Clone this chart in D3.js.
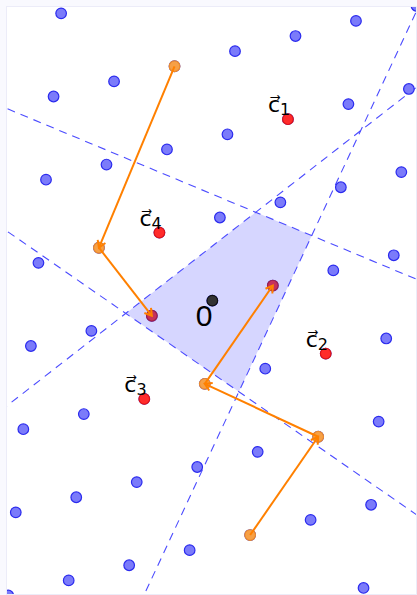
<!DOCTYPE html>
<html>
<head>
<meta charset="utf-8">
<script src="https://cdn.jsdelivr.net/npm/d3@7/dist/d3.min.js"></script>
<style>
  html, body { margin: 0; padding: 0; background: #ffffff; }
  svg { display: block; }
</style>
</head>
<body>
<svg id="chart" width="417" height="595"></svg>
<script>
// ---------- data (lattice coordinates in data units) ----------
const latticePoints = [
  [-12,-3],[-8,-2],[-4,-1],[0,0],[4,1],[8,2],[12,3],
  [-11.5,2.5],[-7.5,3.5],[-3.5,4.5],[0.5,5.5],[4.5,6.5],[8.5,7.5],[12.5,8.5],
  [-11,8],[-7,9],[-3,10],[1,11],[5,12],[9,13],[13,14],
  [-10.5,13.5],[-6.5,14.5],[-2.5,15.5],[1.5,16.5],[5.5,17.5],[9.5,18.5],[13.5,19.5],
  [-10,19],
  [-12.5,-8.5],[-8.5,-7.5],[-4.5,-6.5],[-0.5,-5.5],[3.5,-4.5],[7.5,-3.5],[11.5,-2.5],
  [-13,-14],[-9,-13],[-5,-12],[-1,-11],[3,-10],[7,-9],[11,-8],
  [-13.5,-19.5],[-9.5,-18.5],[-5.5,-17.5],[-1.5,-16.5],[2.5,-15.5],[6.5,-14.5],[10.5,-13.5],
  [10,-19]
];
const cNames = ["1", "2", "3", "4"];
const cX = [5, 7.5, -4.5, -3.5];
const cY = [12, -3.5, -6.5, 4.5];
const origin = [0, 0];
const originLabel = "0";
// reduction paths (start, intermediate steps, end)
const path1 = [[-2.5,15.5],[-7.5,3.5],[-4,-1]];
const path2 = [[2.5,-15.5],[7,-9],[-0.5,-5.5],[4,1]];
const xDomain = [-13.58, 13.47];
const yDomain = [-19.4, 19.42];

// ---------- layout ----------
const W = 417, H = 595;
const plot = {left: 7, right: 416, top: 7, bottom: 594};
const svg = d3.select("#chart");
const x = d3.scaleLinear().domain(xDomain).range([plot.left, plot.right]);
const y = d3.scaleLinear().domain(yDomain).range([plot.bottom, plot.top]);

svg.append("rect").attr("x",0).attr("y",0).attr("width",W).attr("height",H).attr("fill","#f9f9fe");
svg.append("defs").append("clipPath").attr("id","clip")
  .append("rect").attr("x",plot.left).attr("y",plot.top)
  .attr("width",plot.right-plot.left).attr("height",plot.bottom-plot.top);
svg.append("rect").attr("x",plot.left-0.5).attr("y",plot.top-0.5)
  .attr("width",plot.right-plot.left+1).attr("height",plot.bottom-plot.top+1)
  .attr("fill","#ffffff").attr("stroke","#ececf8").attr("stroke-width",1);

const g = svg.append("g").attr("clip-path","url(#clip)");

const cs = cNames.map((n,i)=>({name:n, x:cX[i], y:cY[i], h:(cX[i]*cX[i]+cY[i]*cY[i])/2, ang:Math.atan2(cY[i],cX[i])}));

// polygon: intersection of consecutive bisectors (sorted by angle)
const sorted = cs.slice().sort((a,b)=>a.ang-b.ang);
function inter(a,b){
  const det = a.x*b.y - a.y*b.x;
  return [(a.h*b.y - a.y*b.h)/det, (a.x*b.h - a.h*b.x)/det];
}
const poly = sorted.map((c,i)=>inter(c, sorted[(i+1)%sorted.length]));
g.append("path")
  .attr("d", d3.line().x(d=>x(d[0])).y(d=>y(d[1]))(poly) + "Z")
  .attr("fill","#0000ff").attr("fill-opacity",0.16).attr("stroke","none");

// bisector dashed lines
cs.forEach(c=>{
  const m = [c.x/2, c.y/2];
  const len = Math.hypot(c.x,c.y);
  const d = [-c.y/len, c.x/len];
  const T = 60;
  g.append("line")
    .attr("x1", x(m[0]-d[0]*T)).attr("y1", y(m[1]-d[1]*T))
    .attr("x2", x(m[0]+d[0]*T)).attr("y2", y(m[1]+d[1]*T))
    .attr("stroke","#4b4bff").attr("stroke-width",1.1)
    .attr("stroke-dasharray","8,6");
});

// lattice points
g.selectAll("circle.lat").data(latticePoints).join("circle")
  .attr("class","lat")
  .attr("cx",d=>x(d[0])).attr("cy",d=>y(d[1])).attr("r",5.3)
  .attr("fill","#7b7bfa").attr("stroke","#2b2bee").attr("stroke-width",1.2);

// path points
const paths = [path1, path2];
paths.forEach(p=>{
  p.slice(0,-1).forEach(pt=>{
    g.append("circle").attr("cx",x(pt[0])).attr("cy",y(pt[1])).attr("r",5.3)
      .attr("fill","#f6a046").attr("stroke","#ee8c2a").attr("stroke-width",1.2);
  });
  const e = p[p.length-1];
  g.append("circle").attr("cx",x(e[0])).attr("cy",y(e[1])).attr("r",5.3)
    .attr("fill","#c5315d").attr("stroke","#a02049").attr("stroke-width",1.2);
});

// c points
cs.forEach(c=>{
  g.append("circle").attr("cx",x(c.x)).attr("cy",y(c.y)).attr("r",5.3)
    .attr("fill","#ff2b2b").attr("stroke","#e01414").attr("stroke-width",1.2);
});

// origin
g.append("circle").attr("cx",x(origin[0])).attr("cy",y(origin[1])).attr("r",5.3)
  .attr("fill","#333333").attr("stroke","#111111").attr("stroke-width",1.2);

// arrows
const orange = "#ff8000";
paths.forEach(p=>{
  for(let i=0;i<p.length-1;i++){
    const x1=x(p[i][0]), y1=y(p[i][1]), x2=x(p[i+1][0]), y2=y(p[i+1][1]);
    g.append("line").attr("x1",x1).attr("y1",y1).attr("x2",x2).attr("y2",y2)
      .attr("stroke",orange).attr("stroke-width",2);
    const a = Math.atan2(y2-y1, x2-x1);
    const L = 8, s = 0.55;
    const p1 = [x2 - L*Math.cos(a-s), y2 - L*Math.sin(a-s)];
    const p2 = [x2 - L*Math.cos(a+s), y2 - L*Math.sin(a+s)];
    g.append("path").attr("d",`M${p1[0]},${p1[1]}L${x2},${y2}L${p2[0]},${p2[1]}`)
      .attr("fill","none").attr("stroke",orange).attr("stroke-width",2)
      .attr("stroke-linejoin","miter");
  }
});

// labels (vector notation: c with combining right arrow above, numeric subscript)
cs.forEach(c=>{
  const px = x(c.x), py = y(c.y);
  const t = svg.append("text").attr("x",px-20).attr("y",py-7)
    .attr("font-family","DejaVu Sans, sans-serif").attr("font-size",22).attr("fill","#000");
  t.append("tspan").text("c\u20D7");
  t.append("tspan").attr("font-size",16).attr("dy",3).text(c.name);
});
svg.append("text").attr("x",x(origin[0])-16.5).attr("y",y(origin[1])+25.5)
  .attr("font-family","Liberation Sans, sans-serif").attr("font-size",30).attr("fill","#000")
  .text(originLabel);
</script>
</body>
</html>
